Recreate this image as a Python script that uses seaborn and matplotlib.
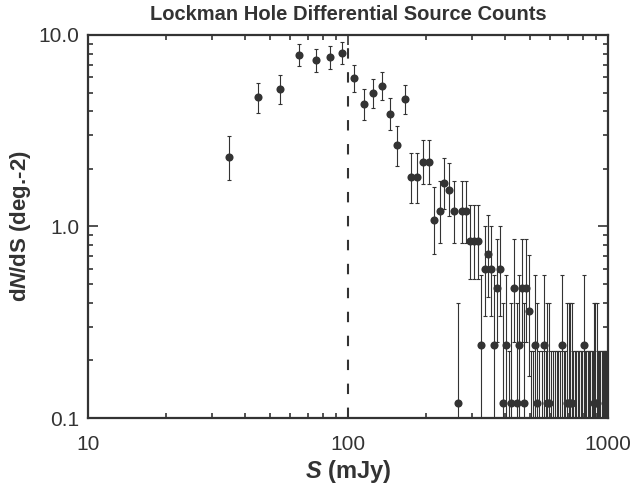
import matplotlib
matplotlib.use("Agg")
import matplotlib.pyplot as plt
import numpy as np
import pandas as pd
import seaborn as sns
from matplotlib.ticker import FixedLocator, FixedFormatter, LogLocator, NullFormatter

# ---- data ----
flux_mJy = [35, 45, 55, 65, 75, 85, 95, 105, 115, 125, 135, 145, 155, 165, 175, 185,
            195, 205, 215, 225, 235, 245, 255, 265, 275, 285, 295, 305, 315, 325, 335,
            345, 355, 365, 375, 385, 395, 405, 415, 425, 435, 445, 455, 465, 475, 485,
            495, 505, 515, 525, 535, 545, 555, 565, 575, 585, 595, 605, 615, 625, 635,
            645, 655, 665, 675, 685, 695, 705, 715, 725, 735, 745, 755, 765, 775, 785,
            795, 805, 815, 825, 835, 845, 855, 865, 875, 885, 895, 905, 915, 925, 935,
            945, 955, 965, 975, 985, 995]

dnds = [2.30, 4.73, 5.21, 7.86, 7.38, 7.67, 8.02, 5.96, 4.36, 4.98, 5.43, 3.88, 2.66, 4.61,
        1.81, 1.81, 2.17, 2.17, 1.08, 1.20, 1.68, 1.56, 1.20, 0.12, 1.20, 1.20, 0.84, 0.84,
        0.84, 0.24, 0.60, 0.72, 0.60, 0.24, 0.48, 0.60, 0.12, 0.24, 0.0, 0.12, 0.48, 0.12,
        0.24, 0.48, 0.12, 0.48, 0.36, 0.0, 0.0, 0.24, 0.12, 0.0, 0.0, 0.24, 0.0, 0.12,
        0.12, 0.0, 0.0, 0.0, 0.0, 0.0, 0.0, 0.24, 0.0, 0.0, 0.12, 0.12, 0.12, 0.12,
        0.0, 0.0, 0.0, 0.0, 0.0, 0.0, 0.0, 0.24, 0.0, 0.0, 0.0, 0.0, 0.0, 0.0, 0.0,
        0.12, 0.12, 0.12, 0.0, 0.0, 0.0, 0.0, 0.0, 0.0, 0.0, 0.0, 0.0]

err_low = [1.75, 3.93, 4.38, 6.86, 6.43, 6.67, 7.03, 5.06, 3.60, 4.17, 4.59, 3.18, 2.07, 3.85,
           1.33, 1.33, 1.66, 1.66, 0.72, 0.82, 1.24, 1.13, 0.82, 0.02, 0.82, 0.82, 0.53, 0.53,
           0.53, 0.085, 0.34, 0.43, 0.34, 0.085, 0.25, 0.34, 0.02, 0.085, 0.01, 0.02, 0.25, 0.02,
           0.085, 0.25, 0.02, 0.25, 0.165, 0.01, 0.01, 0.085, 0.02, 0.01, 0.01, 0.085, 0.01, 0.02,
           0.02, 0.01, 0.01, 0.01, 0.01, 0.01, 0.01, 0.085, 0.01, 0.01, 0.02, 0.02, 0.02, 0.02,
           0.01, 0.01, 0.01, 0.01, 0.01, 0.01, 0.01, 0.085, 0.01, 0.01, 0.01, 0.01, 0.01, 0.01, 0.01,
           0.02, 0.02, 0.02, 0.01, 0.01, 0.01, 0.01, 0.01, 0.01, 0.01, 0.01, 0.01]

err_high = [2.97, 5.63, 6.18, 8.94, 8.42, 8.76, 9.16, 6.97, 5.22, 5.89, 6.38, 4.67, 3.35, 5.48,
            2.41, 2.42, 2.83, 2.83, 1.60, 1.73, 2.27, 2.14, 1.72, 0.40, 1.72, 1.72, 1.29, 1.29,
            1.29, 0.56, 1.01, 1.15, 1.01, 0.56, 0.86, 1.01, 0.40, 0.56, 0.224, 0.40, 0.86, 0.40,
            0.56, 0.86, 0.40, 0.86, 0.71, 0.224, 0.224, 0.56, 0.40, 0.224, 0.224, 0.56, 0.224, 0.40,
            0.40, 0.224, 0.224, 0.224, 0.224, 0.224, 0.224, 0.56, 0.224, 0.224, 0.40, 0.40, 0.40, 0.40,
            0.224, 0.224, 0.224, 0.224, 0.224, 0.224, 0.224, 0.56, 0.224, 0.224, 0.224, 0.224, 0.224,
            0.224, 0.224, 0.40, 0.40, 0.40, 0.224, 0.224, 0.224, 0.224, 0.224, 0.224, 0.224, 0.224,
            0.224]

x_ticks = [10, 100, 1000]
x_tick_labels = ["10", "100", "1000"]
y_ticks = [0.1, 1.0, 10.0]
y_tick_labels = ["0.1", "1.0", "10.0"]
cut_mJy = 100
title = "Lockman Hole Differential Source Counts"

# ---- styling ----
sns.set_theme(style="ticks")
plt.rcParams['font.family'] = ['Liberation Sans', 'DejaVu Sans']
plt.rcParams['mathtext.fontset'] = 'custom'
plt.rcParams['mathtext.it'] = 'Liberation Sans:italic:bold'
plt.rcParams['mathtext.rm'] = 'Liberation Sans:bold'
ink = '#333333'

fig = plt.figure(figsize=(6.33, 4.97), dpi=100)
fig.patch.set_facecolor('white')
ax = fig.add_axes([88 / 633, 1 - 418 / 497, 520 / 633, 383 / 497])
ax.set_facecolor('white')
ax.set_xscale('log')
ax.set_yscale('log')

df = pd.DataFrame({'S': flux_mJy, 'dNdS': dnds, 'lo': err_low, 'hi': err_high})

# error bars
ax.vlines(df['S'], df['lo'], df['hi'], colors=ink, lw=0.8, zorder=2)
ax.plot(df['S'], df['hi'], ls='none', marker='_', ms=3, mew=0.8, color=ink, zorder=2)
low_vis = df[df['lo'] > 0.1]
ax.plot(low_vis['S'], low_vis['lo'], ls='none', marker='_', ms=3, mew=0.8, color=ink, zorder=2)

# points (only non-zero counts are visible on a log axis)
pts = df[df['dNdS'] > 0]
sns.scatterplot(data=pts, x='S', y='dNdS', ax=ax, color=ink, s=34, linewidth=0,
                edgecolor=ink, zorder=3, legend=False)

ax.axvline(cut_mJy, color=ink, lw=1.5, ls=(0, (5, 6.5)), zorder=1)

ax.set_xlim(10, 1000)
ax.set_ylim(0.1, 10)

ax.xaxis.set_major_locator(FixedLocator(x_ticks))
ax.xaxis.set_major_formatter(FixedFormatter(x_tick_labels))
ax.yaxis.set_major_locator(FixedLocator(y_ticks))
ax.yaxis.set_major_formatter(FixedFormatter(y_tick_labels))
ax.xaxis.set_minor_locator(LogLocator(base=10, subs=np.arange(2, 10)))
ax.yaxis.set_minor_locator(LogLocator(base=10, subs=np.arange(2, 10)))
ax.xaxis.set_minor_formatter(NullFormatter())
ax.yaxis.set_minor_formatter(NullFormatter())

ax.tick_params(which='both', direction='in', top=True, right=True, color=ink,
               width=1.2, labelcolor=ink, labelsize=15)
ax.tick_params(which='major', length=7.5)
ax.tick_params(which='minor', length=3.5)
ax.tick_params(axis='x', which='major', pad=12)
ax.tick_params(axis='y', which='major', pad=6)

for sp in ax.spines.values():
    sp.set_color(ink)
    sp.set_linewidth(1.6)

ax.set_xlabel(r'$S$ (mJy)', fontsize=17, color=ink, fontweight='bold')
ax.set_ylabel(r'd$N$/dS (deg.-2)', fontsize=16, color=ink, fontweight='bold')
ax.xaxis.set_label_coords((348 - 88) / 520, (418 - 458) / 383)
ax.yaxis.set_label_coords((33 - 88) / 520, 0.5)

fig.text(348 / 633, 1 - 15 / 497, title, ha='center', va='center', fontsize=14.5,
         color=ink, fontweight='bold')

fig.savefig('out.png', dpi=100, facecolor='white')
